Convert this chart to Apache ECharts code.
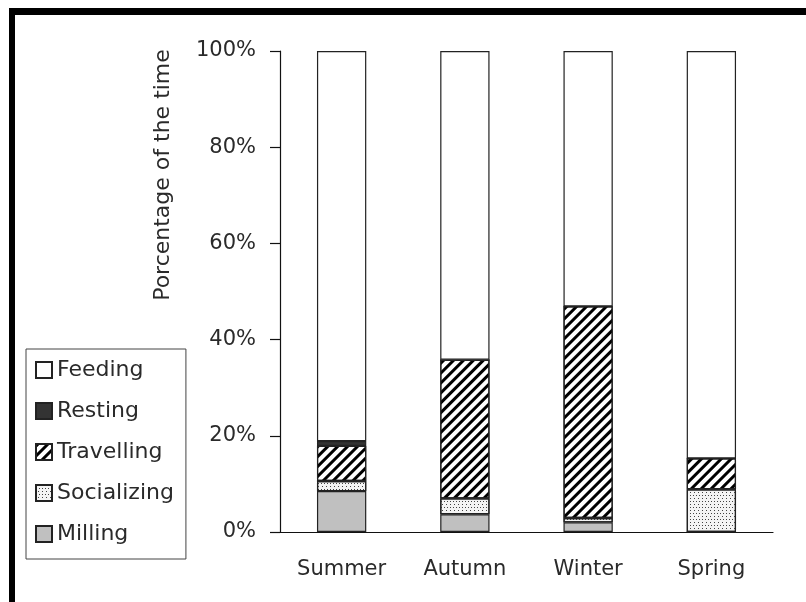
<!DOCTYPE html>
<html>
<head>
<meta charset="utf-8">
<script src="https://cdn.jsdelivr.net/npm/echarts@6/dist/echarts.min.js"></script>
<style>
html,body{margin:0;padding:0;background:#fff;}
#chart{width:806px;height:602px;}
</style>
</head>
<body>
<div id="chart"></div>
<script>
// ---- data ----
var seasons = ['Summer', 'Autumn', 'Winter', 'Spring'];
var legendOrder = ['Feeding', 'Resting', 'Travelling', 'Socializing', 'Milling'];
var milling = [8.5, 3.7, 2.0, 0];
var socializing = [2.1, 3.3, 0.9, 8.9];
var travelling = [7.3, 28.8, 44.0, 6.4];
var resting = [1.0, 0, 0, 0];
var feeding = [81.1, 64.2, 53.1, 84.7];
var yTicks = [0, 20, 40, 60, 80, 100];
var yTitle = 'Porcentage of the time';

var FONT = 'DejaVu Sans';
var TXT = '#2a2a2a';
var border = { borderColor: '#222', borderWidth: 1.2 };

function barSeries(name, data, fill, decal) {
  var st = Object.assign({ color: fill }, border);
  if (decal) st.decal = decal;
  return {
    name: name, type: 'bar', stack: 'total', data: data,
    barWidth: '40%', itemStyle: st,
    emphasis: { disabled: true }
  };
}

var chart = echarts.init(document.getElementById('chart'), null, { renderer: 'canvas' });
chart.setOption({
  animation: false,
  backgroundColor: '#fff',
  aria: { enabled: false },
  grid: { left: 280, right: 33, top: 51, bottom: 70 },
  legend: {
    orient: 'vertical', left: 26, top: 349,
    data: legendOrder,
    icon: 'rect', itemWidth: 16, itemHeight: 16, itemGap: 19,
    padding: [10, 12, 14, 9],
    borderColor: '#444', borderWidth: 1,
    textStyle: { fontFamily: FONT, fontSize: 22, color: TXT },
    selectedMode: false
  },
  xAxis: {
    type: 'category', data: seasons,
    axisLine: { lineStyle: { color: '#111', width: 1.2 } },
    axisTick: { length: 10, lineStyle: { color: '#111', width: 1.2 } },
    axisLabel: { margin: 27, fontFamily: FONT, fontSize: 21, color: TXT }
  },
  yAxis: {
    type: 'value', min: yTicks[0], max: yTicks[yTicks.length - 1], interval: 20,
    axisLine: { show: true, lineStyle: { color: '#111', width: 1.2 } },
    axisTick: { show: true, length: 10, lineStyle: { color: '#111', width: 1.2 } },
    splitLine: { show: false },
    axisLabel: { margin: 24, fontFamily: FONT, fontSize: 21, color: TXT, formatter: '{value}%' }
  },
  series: [
    barSeries('Milling', milling, '#c0c0c0'),
    barSeries('Socializing', socializing, '#f4f4f4', {
      symbol: 'rect', symbolSize: 1, color: '#444',
      dashArrayX: [[1, 2], [0, 1.5, 1, 0.5]], dashArrayY: [1, 1.2], rotation: 0
    }),
    barSeries('Travelling', travelling, '#ffffff', {
      symbol: 'rect', symbolSize: 1, color: '#000',
      dashArrayX: [1, 0], dashArrayY: [2.8, 3.2], rotation: -Math.PI / 4
    }),
    barSeries('Resting', resting, '#333333'),
    barSeries('Feeding', feeding, '#ffffff')
  ],
  graphic: [
    { type: 'rect', shape: { x: 9, y: 8, width: 797, height: 7 }, style: { fill: '#000' }, silent: true },
    { type: 'rect', shape: { x: 9, y: 8, width: 6, height: 594 }, style: { fill: '#000' }, silent: true },
    {
      type: 'text', x: 163, y: 175, rotation: Math.PI / 2,
      style: { text: yTitle, fontFamily: FONT, fontSize: 22, fill: TXT, align: 'center', verticalAlign: 'middle' },
      silent: true
    }
  ]
});
</script>
</body>
</html>
